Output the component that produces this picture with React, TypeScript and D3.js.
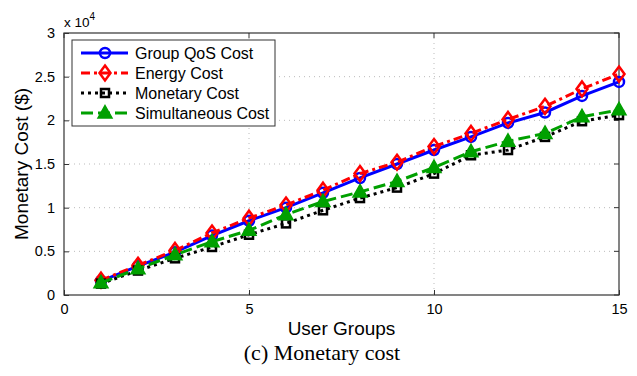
import { useRef, useEffect } from 'react';
import * as d3 from 'd3';

const groups = [1, 2, 3, 4, 5, 6, 7, 8, 9, 10, 11, 12, 13, 14, 15];
// values in units of 1e4 $
const groupQos = [0.16, 0.33, 0.49, 0.68, 0.85, 1.0, 1.17, 1.34, 1.5, 1.66, 1.81, 1.97, 2.09, 2.28, 2.44];
const energy = [0.17, 0.34, 0.51, 0.71, 0.88, 1.03, 1.2, 1.39, 1.52, 1.7, 1.85, 2.01, 2.16, 2.36, 2.53];
const monetary = [0.13, 0.28, 0.42, 0.55, 0.69, 0.82, 0.97, 1.11, 1.23, 1.39, 1.6, 1.66, 1.81, 1.99, 2.06];
const simultaneous = [0.14, 0.3, 0.46, 0.61, 0.74, 0.92, 1.07, 1.18, 1.3, 1.46, 1.64, 1.76, 1.85, 2.04, 2.12];

const xTicks = [0, 5, 10, 15];
const yTicks = [0, 0.5, 1, 1.5, 2, 2.5, 3];

type Series = { name: string; values: number[]; color: string; dash: string; marker: string };

const series: Series[] = [
  { name: 'Group QoS Cost', values: groupQos, color: '#0000ff', dash: '', marker: 'circle' },
  { name: 'Energy Cost', values: energy, color: '#ff0000', dash: '9,4,3,4', marker: 'diamond' },
  { name: 'Monetary Cost', values: monetary, color: '#000000', dash: '3,4', marker: 'square' },
  { name: 'Simultaneous Cost', values: simultaneous, color: '#00a000', dash: '12,5', marker: 'triangle' },
];

const W = 637;
const H = 376;

function drawMarker(g: d3.Selection<SVGGElement, unknown, null, undefined>, kind: string, x: number, y: number, color: string) {
  if (kind === 'circle') {
    g.append('circle').attr('cx', x).attr('cy', y).attr('r', 5)
      .attr('fill', 'none').attr('stroke', color).attr('stroke-width', 2.5);
  } else if (kind === 'diamond') {
    g.append('path').attr('d', `M${x},${y - 7.5}L${x + 5.5},${y}L${x},${y + 7.5}L${x - 5.5},${y}Z`)
      .attr('fill', 'none').attr('stroke', color).attr('stroke-width', 2.5);
  } else if (kind === 'square') {
    g.append('rect').attr('x', x - 4).attr('y', y - 4).attr('width', 8).attr('height', 8)
      .attr('fill', 'none').attr('stroke', color).attr('stroke-width', 2.5);
  } else {
    g.append('path').attr('d', `M${x},${y - 7.5}L${x + 7},${y + 5}L${x - 7},${y + 5}Z`)
      .attr('fill', color).attr('stroke', color).attr('stroke-width', 1.5);
  }
}

export default function App() {
  const svgRef = useRef<SVGSVGElement>(null);

  useEffect(() => {
    if (!svgRef.current) return;
    const svg = d3.select(svgRef.current);
    svg.selectAll('*').remove();

    const left = 64, right = 619, top = 33, bottom = 295;
    const x = d3.scaleLinear().domain([0, 15]).range([left, right]);
    const y = d3.scaleLinear().domain([0, 3]).range([bottom, top]);
    const font = 'Liberation Sans, Arial, sans-serif';

    svg.append('rect').attr('width', W).attr('height', H).attr('fill', '#fff');

    // grid
    const grid = svg.append('g');
    yTicks.slice(1, -1).forEach((t) => {
      grid.append('line').attr('x1', left).attr('x2', right).attr('y1', y(t)).attr('y2', y(t))
        .attr('stroke', '#bbb').attr('stroke-width', 1).attr('stroke-dasharray', '1,4');
    });
    xTicks.slice(1, -1).forEach((t) => {
      grid.append('line').attr('x1', x(t)).attr('x2', x(t)).attr('y1', top).attr('y2', bottom)
        .attr('stroke', '#bbb').attr('stroke-width', 1).attr('stroke-dasharray', '1,4');
    });

    // axes with inward ticks
    const xAxis = svg.append('g').attr('transform', `translate(0,${bottom})`)
      .call(d3.axisBottom(x).tickValues(xTicks).tickSizeInner(-5).tickSizeOuter(0).tickPadding(9));
    const yAxis = svg.append('g').attr('transform', `translate(${left},0)`)
      .call(d3.axisLeft(y).tickValues(yTicks).tickFormat((d) => `${d}`).tickSizeInner(-5).tickSizeOuter(0).tickPadding(9));
    [xAxis, yAxis].forEach((a) => {
      a.select('.domain').remove();
      a.selectAll('line').attr('stroke', '#333');
      a.selectAll('text').attr('font-family', font).attr('font-size', 14.5).attr('fill', '#000');
    });
    // top/right ticks
    xTicks.forEach((t) => {
      svg.append('line').attr('x1', x(t)).attr('x2', x(t)).attr('y1', top).attr('y2', top + 5).attr('stroke', '#333');
    });
    yTicks.forEach((t) => {
      svg.append('line').attr('x1', right).attr('x2', right - 5).attr('y1', y(t)).attr('y2', y(t)).attr('stroke', '#333');
    });

    // frame
    svg.append('rect').attr('x', left).attr('y', top).attr('width', right - left).attr('height', bottom - top)
      .attr('fill', 'none').attr('stroke', '#333').attr('stroke-width', 1.2);

    // series
    const line = d3.line<number>().x((_, i) => x(groups[i])).y((d) => y(d));
    series.forEach((s) => {
      svg.append('path').attr('d', line(s.values)).attr('fill', 'none')
        .attr('stroke', s.color).attr('stroke-width', 3).attr('stroke-dasharray', s.dash || null);
      const mg = svg.append('g');
      s.values.forEach((v, i) => drawMarker(mg, s.marker, x(groups[i]), y(v), s.color));
    });

    // exponent label
    const ex = svg.append('text').attr('x', 64).attr('y', 27).attr('font-family', font).attr('font-size', 13.5);
    ex.append('tspan').text('x 10');
    ex.append('tspan').attr('dy', -7).attr('font-size', 10).text('4');

    // axis titles
    svg.append('text').attr('x', (left + right) / 2).attr('y', 335).attr('text-anchor', 'middle')
      .attr('font-family', font).attr('font-size', 19).text('User Groups');
    svg.append('text').attr('transform', `translate(28,${(top + bottom) / 2}) rotate(-90)`)
      .attr('text-anchor', 'middle').attr('font-family', font).attr('font-size', 19).text('Monetary Cost ($)');

    // caption
    svg.append('text').attr('x', 322).attr('y', 360).attr('text-anchor', 'middle')
      .attr('font-family', 'Liberation Serif, Times New Roman, serif').attr('font-size', 22).text('(c) Monetary cost');

    // legend
    const lg = svg.append('g');
    lg.append('rect').attr('x', 72).attr('y', 40).attr('width', 203).attr('height', 86)
      .attr('fill', '#fff').attr('stroke', '#333').attr('stroke-width', 1);
    series.forEach((s, i) => {
      const ly = 53 + i * 20;
      lg.append('line').attr('x1', 81).attr('x2', 128).attr('y1', ly).attr('y2', ly)
        .attr('stroke', s.color).attr('stroke-width', 3).attr('stroke-dasharray', s.dash || null);
      drawMarker(lg, s.marker, 105, ly, s.color);
      lg.append('text').attr('x', 135).attr('y', ly + 5.5).attr('font-family', font).attr('font-size', 16).text(s.name);
    });
  }, []);

  return <svg ref={svgRef} width={W} height={H} style={{ position: 'absolute', left: 0, top: 0, display: 'block' }} />;
}
